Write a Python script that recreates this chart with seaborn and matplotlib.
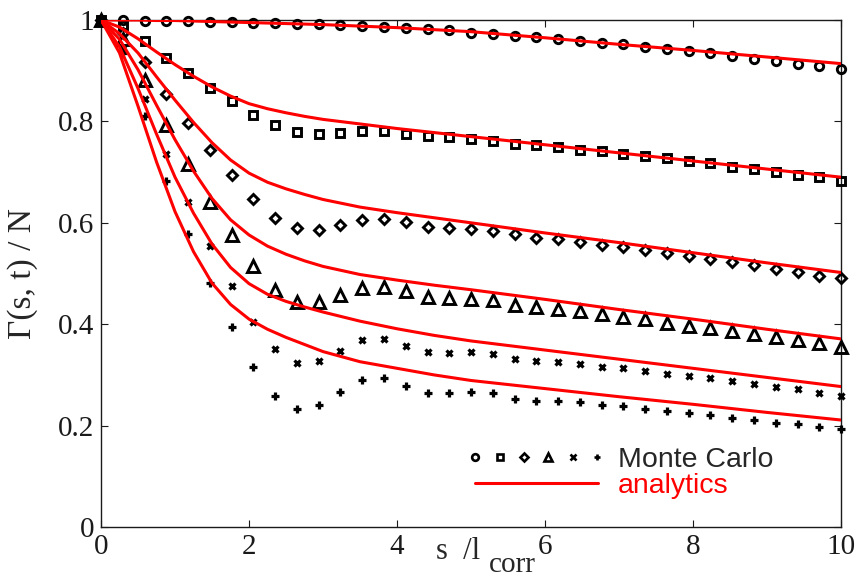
import numpy as np
import seaborn as sns
import matplotlib.pyplot as plt
from matplotlib.lines import Line2D
from matplotlib.legend_handler import HandlerTuple

# Monte Carlo samples (35 evenly spaced s values)
s_mc = np.linspace(0, 10, 35)
mc_circle = [1.0, 1.0, 0.999, 0.999, 0.998, 0.997, 0.996, 0.995, 0.994, 0.993, 0.992, 0.990,
             0.989, 0.987, 0.985, 0.983, 0.980, 0.975, 0.973, 0.969, 0.966, 0.963, 0.958, 0.955,
             0.952, 0.946, 0.943, 0.938, 0.935, 0.929, 0.924, 0.919, 0.914, 0.909, 0.904]
mc_square = [1.0, 0.99, 0.958, 0.925, 0.896, 0.866, 0.840, 0.813, 0.792, 0.779, 0.775, 0.778,
             0.782, 0.782, 0.776, 0.772, 0.769, 0.765, 0.762, 0.756, 0.753, 0.750, 0.744, 0.741,
             0.736, 0.732, 0.727, 0.721, 0.717, 0.711, 0.706, 0.700, 0.695, 0.690, 0.683]
mc_diamond = [1.0, 0.975, 0.917, 0.854, 0.797, 0.743, 0.694, 0.647, 0.609, 0.590, 0.586, 0.596,
              0.606, 0.608, 0.601, 0.592, 0.590, 0.588, 0.583, 0.577, 0.571, 0.568, 0.563, 0.557,
              0.552, 0.547, 0.540, 0.534, 0.529, 0.523, 0.516, 0.509, 0.503, 0.496, 0.491]
mc_triangle = [1.0, 0.962, 0.881, 0.792, 0.716, 0.642, 0.575, 0.514, 0.467, 0.443, 0.443, 0.457,
               0.471, 0.474, 0.465, 0.453, 0.451, 0.450, 0.447, 0.438, 0.433, 0.430, 0.426, 0.420,
               0.415, 0.410, 0.403, 0.397, 0.392, 0.387, 0.380, 0.375, 0.369, 0.363, 0.356]
mc_cross = [1.0, 0.945, 0.844, 0.736, 0.641, 0.555, 0.476, 0.404, 0.351, 0.324, 0.328, 0.348,
            0.368, 0.371, 0.357, 0.345, 0.343, 0.345, 0.341, 0.332, 0.328, 0.326, 0.322, 0.316,
            0.313, 0.308, 0.302, 0.298, 0.294, 0.287, 0.282, 0.277, 0.272, 0.265, 0.259]
mc_plus = [1.0, 0.935, 0.811, 0.683, 0.578, 0.482, 0.394, 0.316, 0.259, 0.233, 0.241, 0.267,
           0.290, 0.294, 0.278, 0.264, 0.264, 0.267, 0.264, 0.253, 0.249, 0.249, 0.246, 0.241,
           0.239, 0.233, 0.229, 0.224, 0.221, 0.215, 0.211, 0.206, 0.203, 0.197, 0.193]

s_an = [0, 0.25, 0.5, 0.75, 1.0, 1.25, 1.5, 1.75, 2.0, 2.25, 2.5, 2.75, 3.0,
        3.5, 4.0, 4.5, 5.0, 6.0, 7.0, 8.0, 9.0, 10.0]
an_circle = [1.0, 1.0, 1.0, 0.999, 0.999, 0.998, 0.997, 0.996, 0.995, 0.994, 0.993, 0.992, 0.991,
             0.988, 0.985, 0.981, 0.977, 0.965, 0.952, 0.940, 0.927, 0.914]
an_square = [1.0, 0.986, 0.963, 0.937, 0.912, 0.889, 0.868, 0.850, 0.835, 0.825, 0.817, 0.810, 0.804,
             0.795, 0.786, 0.778, 0.770, 0.754, 0.738, 0.722, 0.706, 0.690]
an_diamond = [1.0, 0.973, 0.935, 0.888, 0.842, 0.798, 0.758, 0.724, 0.698, 0.680, 0.667, 0.656, 0.646,
              0.631, 0.620, 0.610, 0.600, 0.580, 0.561, 0.541, 0.521, 0.502]
an_triangle = [1.0, 0.962, 0.902, 0.832, 0.764, 0.702, 0.648, 0.606, 0.576, 0.554, 0.538, 0.525, 0.514,
               0.498, 0.487, 0.477, 0.468, 0.449, 0.429, 0.410, 0.390, 0.371]
an_cross = [1.0, 0.947, 0.865, 0.775, 0.690, 0.619, 0.558, 0.512, 0.480, 0.459, 0.445, 0.434, 0.424,
            0.406, 0.391, 0.378, 0.367, 0.349, 0.331, 0.313, 0.295, 0.277]
an_plus = [1.0, 0.935, 0.830, 0.720, 0.622, 0.543, 0.481, 0.439, 0.410, 0.390, 0.374, 0.360, 0.346,
           0.326, 0.313, 0.300, 0.289, 0.273, 0.257, 0.242, 0.226, 0.211]

x_ticks = [0, 2, 4, 6, 8, 10]
y_ticks = [0, 0.2, 0.4, 0.6, 0.8, 1.0]
y_ticklabels = ['0', '0.2', '0.4', '0.6', '0.8', '1']

sns.set_theme(style="ticks")
plt.rcParams['font.family'] = ['Liberation Serif', 'DejaVu Serif']

fig = plt.figure(figsize=(8.65, 5.82), dpi=100, facecolor='white')
ax = fig.add_axes([0.1168, 0.0945, 0.8555, 0.8711])

# marker, size, edge width
styles = [('o', 6.0, 2.1), ('s', 5.4, 2.1), ('D', 5.2, 2.1), ('^', 8.0, 2.1), ('x', 4.8, 2.3), ('+', 6.2, 2.3)]
mc_all = [mc_circle, mc_square, mc_diamond, mc_triangle, mc_cross, mc_plus]
an_all = [an_circle, an_square, an_diamond, an_triangle, an_cross, an_plus]

for (m, ms, mew), y in zip(styles, mc_all):
    sns.lineplot(x=s_mc, y=y, ax=ax, linestyle='', marker=m, markersize=ms,
                 markerfacecolor='none', markeredgecolor='black', markeredgewidth=mew,
                 color='black', clip_on=False, zorder=3)
for y in an_all:
    sns.lineplot(x=s_an, y=y, ax=ax, color='red', linewidth=2.2, zorder=4)

ax.set_xlim(0, 10)
ax.set_ylim(0, 1)
ax.set_xticks(x_ticks)
ax.set_yticks(y_ticks)
ax.set_yticklabels(y_ticklabels)
ax.tick_params(direction='in', top=True, right=True, length=5, width=0.8,
               labelsize=21, colors='k', pad=5)
for sp in ax.spines.values():
    sp.set_visible(True)
    sp.set_color('k')
    sp.set_linewidth(1.0)

# x label "s /l" with a large subscript "corr", sitting among the tick labels
ax.set_xlabel('')
ax.text(0.4527, -0.063, 's  /l', transform=ax.transAxes, fontsize=22,
        ha='left', va='baseline')
ax.text(0.5243, -0.088, 'corr', transform=ax.transAxes, fontsize=21,
        ha='left', va='baseline')

ax.set_ylabel('Γ(s, t) / N', fontsize=24)
ax.yaxis.set_label_coords(-0.085, 0.5)

# legend: all six marker types in one row, red line below
L = 4.66 * 19 / 20.5
mc_handles = tuple(Line2D([], [], linestyle='', marker=m, markersize=ms * 0.8,
                          markerfacecolor='none', markeredgecolor='black', markeredgewidth=1.9)
                   for m, ms, mew in styles)
an_handle = Line2D([], [], color='red', linewidth=2.2)
leg = ax.legend([mc_handles, an_handle], ['Monte Carlo', 'analytics'],
                handler_map={tuple: HandlerTuple(ndivide=None, pad=L / 5 * 0.97)},
                loc='center left', bbox_to_anchor=(0.505, 0.107), frameon=False,
                prop={'family': 'Liberation Sans', 'size': 20.5}, handlelength=L,
                handletextpad=0.7, borderpad=0, borderaxespad=0, labelspacing=0.0)
leg.get_texts()[1].set_color('red')

fig.savefig('out.png', dpi=100, facecolor='white')
